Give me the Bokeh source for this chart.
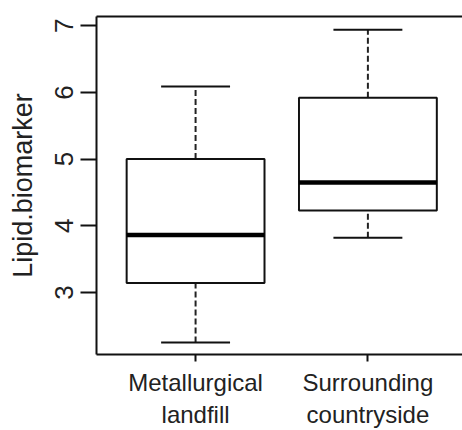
import math
import numpy as np
from bokeh.plotting import figure
from bokeh.models import LinearAxis, FixedTicker, Range1d, ColumnDataSource
from bokeh.embed import file_html
from bokeh.resources import INLINE

# ---- data ----
categories = ["Metallurgical\nlandfill", "Surrounding\ncountryside"]
whisker_low = [2.25, 3.82]
q1 = [3.14, 4.23]
median = [3.86, 4.65]
q3 = [5.00, 5.92]
whisker_high = [6.09, 6.94]
y_ticks = [3, 4, 5, 6, 7]
y_label = "Lipid.biomarker"

x = np.arange(1, len(categories) + 1).astype(float)
box_half = 0.4
cap_half = 0.2

src = ColumnDataSource(dict(
    x=x, x0=x - box_half, x1=x + box_half, c0=x - cap_half, c1=x + cap_half,
    lo=whisker_low, q1=q1, med=median, q3=q3, hi=whisker_high,
))

INK = "#111111"
FONT = "Liberation Sans"

p = figure(width=462, height=430, output_backend="svg", toolbar_location=None,
           x_axis_location=None, y_axis_location=None,
           x_range=Range1d(0.425, 2.549), y_range=Range1d(2.069, 7.139),
           min_border_left=96, min_border_right=0, min_border_top=16, min_border_bottom=75)
p.outline_line_color = None
p.xgrid.visible = False
p.ygrid.visible = False
p.background_fill_color = "white"
p.border_fill_color = "white"

# whiskers (dashed)
p.segment(x0="x", y0="q3", x1="x", y1="hi", source=src, line_color="#222222",
          line_width=2, line_dash="6 3")
p.segment(x0="x", y0="lo", x1="x", y1="q1", source=src, line_color="#222222",
          line_width=2, line_dash="6 3")
# caps
p.segment(x0="c0", y0="hi", x1="c1", y1="hi", source=src, line_color=INK, line_width=2)
p.segment(x0="c0", y0="lo", x1="c1", y1="lo", source=src, line_color=INK, line_width=2)
# boxes
p.quad(left="x0", right="x1", bottom="q1", top="q3", source=src,
       fill_color="white", line_color=INK, line_width=2)
# medians
p.segment(x0="x0", y0="med", x1="x1", y1="med", source=src, line_color="black", line_width=4.5)

# left axis
ya = LinearAxis(ticker=FixedTicker(ticks=y_ticks), axis_label=y_label)
ya.axis_line_color = INK
ya.axis_line_width = 2
ya.major_tick_line_color = INK
ya.major_tick_line_width = 2
ya.major_tick_out = 16
ya.major_tick_in = 0
ya.minor_tick_line_color = None
ya.major_label_orientation = "parallel"
ya.major_label_text_font = FONT
ya.major_label_text_font_size = "26px"
ya.major_label_text_color = "#222222"
ya.major_label_standoff = 7
ya.axis_label_text_font = FONT
ya.axis_label_text_font_size = "27px"
ya.axis_label_text_font_style = "normal"
ya.axis_label_text_color = "#222222"
ya.axis_label_standoff = 15
p.add_layout(ya, "left")

# bottom axis
xa = LinearAxis(ticker=FixedTicker(ticks=list(x)))
xa.major_label_overrides = {float(v): lab for v, lab in zip(x, categories)}
xa.axis_line_color = INK
xa.axis_line_width = 2
xa.major_tick_line_color = INK
xa.major_tick_line_width = 2
xa.major_tick_out = 7
xa.major_tick_in = 0
xa.minor_tick_line_color = None
xa.major_label_text_font = FONT
xa.major_label_text_font_size = "24px"
xa.major_label_text_color = "#222222"
xa.major_label_standoff = 7
p.add_layout(xa, "below")

# top frame line
ta = LinearAxis(ticker=FixedTicker(ticks=[]))
ta.axis_line_color = INK
ta.axis_line_width = 2
ta.major_tick_out = 0
ta.major_tick_in = 0
ta.minor_tick_line_color = None
ta.major_label_text_font_size = "0px"
ta.major_label_standoff = 0
p.add_layout(ta, "above")

open("out.html", "w").write(file_html(p, INLINE))
